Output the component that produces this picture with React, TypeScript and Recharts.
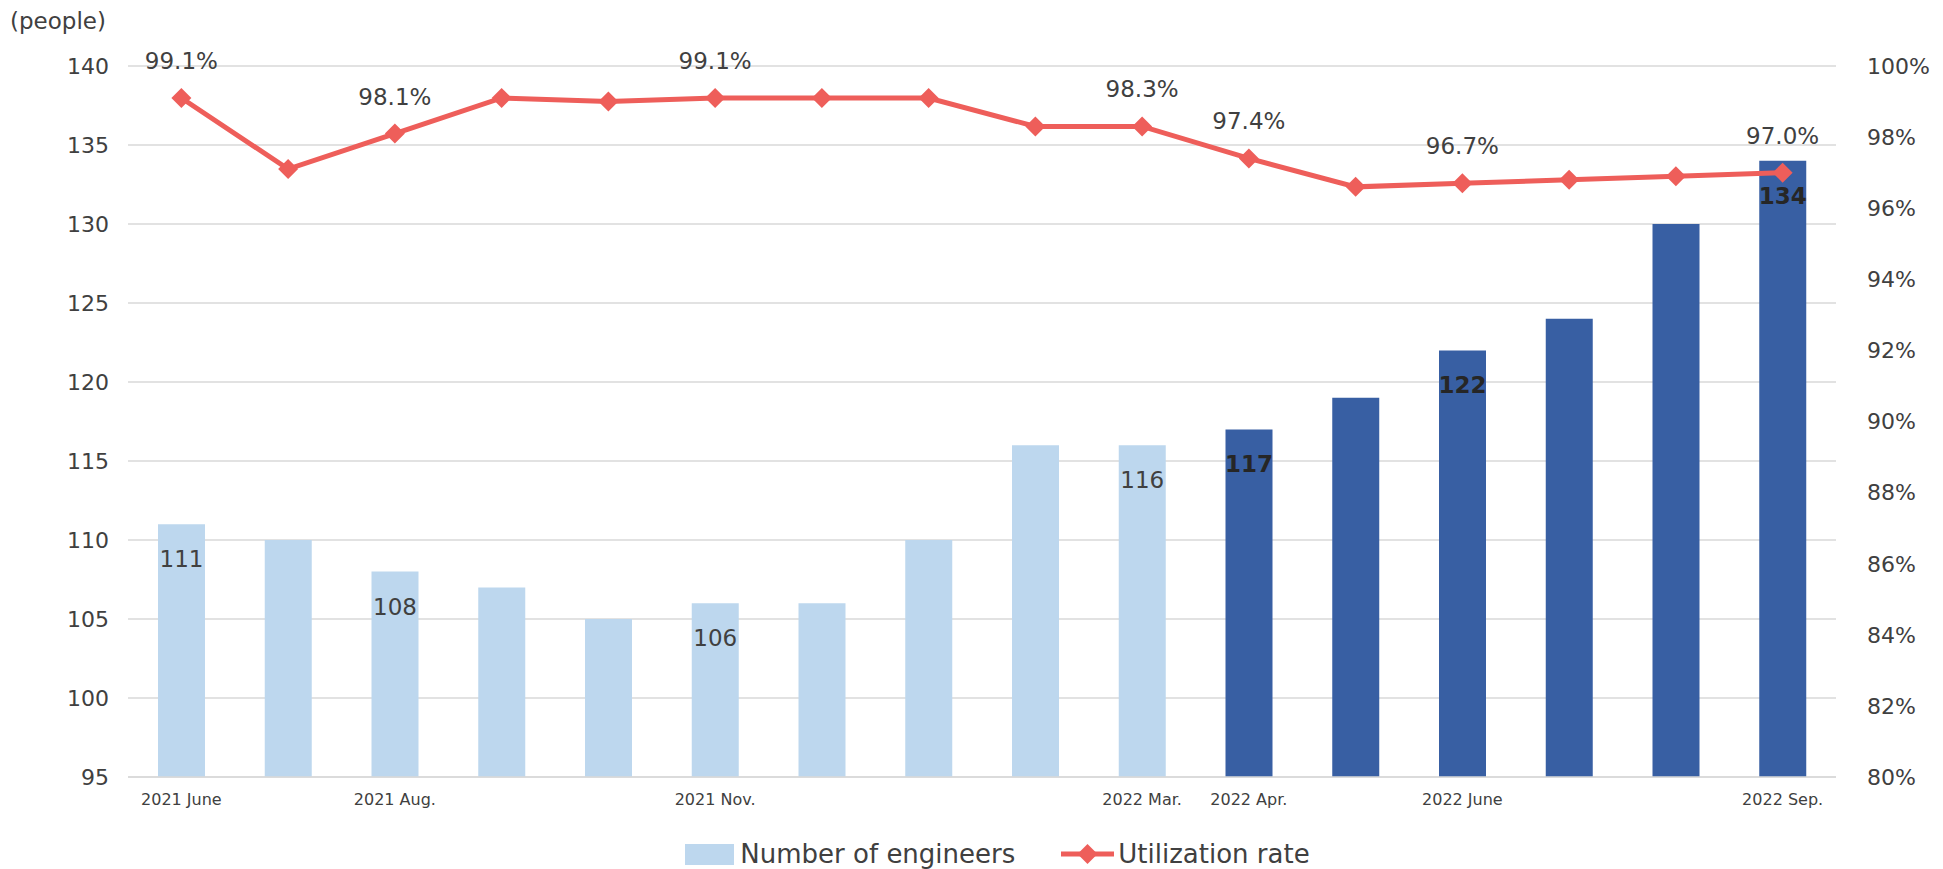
import React from 'react';
import {
  ComposedChart,
  Bar,
  Line,
  XAxis,
  YAxis,
  CartesianGrid,
  Legend,
  Cell,
} from 'recharts';

const months = [
  '2021 June', '2021 July', '2021 Aug.', '2021 Sep.', '2021 Oct.', '2021 Nov.', '2021 Dec.', '2022 Jan.',
  '2022 Feb.', '2022 Mar.', '2022 Apr.', '2022 May', '2022 June', '2022 July', '2022 Aug.', '2022 Sep.',
];
// only some months get an axis label (and a value label)
const tickLabels = [
  '2021 June', '', '2021 Aug.', '', '', '2021 Nov.', '', '',
  '', '2022 Mar.', '2022 Apr.', '', '2022 June', '', '', '2022 Sep.',
];
const engineers = [111, 110, 108, 107, 105, 106, 106, 110, 116, 116, 117, 119, 122, 124, 130, 134];
const utilization = [99.1, 97.1, 98.1, 99.1, 99.0, 99.1, 99.1, 99.1, 98.3, 98.3, 97.4, 96.6, 96.7, 96.8, 96.9, 97.0];
// from 2022 Apr. the bars are dark
const darkBar = [false, false, false, false, false, false, false, false, false, false, true, true, true, true, true, true];
const leftTicks = [95, 100, 105, 110, 115, 120, 125, 130, 135, 140];
const rightTicks = [80, 82, 84, 86, 88, 90, 92, 94, 96, 98, 100];

const data = months.map((m, i) => ({ month: m, engineers: engineers[i], rate: utilization[i] }));

const LIGHT = '#BDD7EE';
const DARK = '#385FA3';
const RED = '#EE5E5A';
const TEXT = '#404040';
const FONT = '"DejaVu Sans", Verdana, sans-serif';

const Diamond = ({ cx, cy, r = 10 }: { cx: number; cy: number; r?: number }) => (
  <polygon points={`${cx},${cy - r} ${cx + r},${cy} ${cx},${cy + r} ${cx - r},${cy}`} fill={RED} />
);

const renderBarLabel = (props: any) => {
  const { x, y, width, index, value } = props;
  if (!tickLabels[index]) return null;
  const dark = darkBar[index];
  return (
    <text
      key={`bl-${index}`}
      x={x + width / 2}
      y={y + 35}
      textAnchor="middle"
      dominantBaseline="central"
      fontFamily={FONT}
      fontSize={23}
      fontWeight={dark ? 'bold' : 'normal'}
      fill={dark ? '#262626' : TEXT}
    >
      {value}
    </text>
  );
};

const renderLineLabel = (props: any) => {
  const { x, y, index, value } = props;
  if (!tickLabels[index]) return null;
  return (
    <text
      key={`ll-${index}`}
      x={x}
      y={y - 37}
      textAnchor="middle"
      dominantBaseline="central"
      fontFamily={FONT}
      fontSize={23}
      fill={TEXT}
    >
      {Number(value).toFixed(1)}%
    </text>
  );
};

const LegendContent = () => (
  <div
    style={{
      display: 'flex',
      justifyContent: 'center',
      alignItems: 'center',
      height: 52,
      paddingLeft: 52,
      fontFamily: FONT,
      fontSize: 26,
      color: TEXT,
      boxSizing: 'border-box',
      paddingTop: 22,
    }}
  >
    <span style={{ display: 'inline-block', width: 49, height: 21, background: LIGHT, marginRight: 6 }} />
    <span style={{ marginRight: 46 }}>Number of engineers</span>
    <svg width={53} height={22} style={{ marginRight: 4 }}>
      <line x1={0} y1={11} x2={53} y2={11} stroke={RED} strokeWidth={5} />
      <Diamond cx={26.5} cy={11} />
    </svg>
    <span>Utilization rate</span>
  </div>
);

const App: React.FC = () => {
  return (
    <div style={{ position: 'relative', width: 1943, height: 869, background: '#fff' }}>
      <style>{'body{margin:0}'}</style>
      <div
        style={{
          position: 'absolute',
          left: 10,
          top: 8,
          fontFamily: FONT,
          fontSize: 23,
          color: TEXT,
        }}
      >
        (people)
      </div>
      <ComposedChart
        width={1943}
        height={869}
        data={data}
        margin={{ top: 66, right: 0, bottom: 0, left: 0 }}
        barCategoryGap={0}
      >
        <CartesianGrid vertical={false} stroke="#D9D9D9" strokeWidth={1.5} yAxisId="left" />
        <XAxis
          dataKey="month"
          interval={0}
          tickLine={false}
          tickSize={0}
          tickMargin={17}
          height={40}
          axisLine={{ stroke: '#D9D9D9', strokeWidth: 1.5 }}
          tickFormatter={(_v: string, i: number) => tickLabels[i]}
          tick={{ fontFamily: FONT, fontSize: 16, fill: TEXT }}
        />
        <YAxis
          yAxisId="left"
          domain={[95, 140]}
          ticks={leftTicks}
          width={128}
          axisLine={false}
          tickLine={false}
          tickSize={0}
          tickMargin={19}
          tick={{ fontFamily: FONT, fontSize: 22, fill: TEXT }}
        />
        <YAxis
          yAxisId="right"
          orientation="right"
          domain={[80, 100]}
          ticks={rightTicks}
          width={107}
          axisLine={false}
          tickLine={false}
          tickSize={0}
          tickMargin={31}
          tickFormatter={(v: number) => `${v}%`}
          tick={{ fontFamily: FONT, fontSize: 22, fill: TEXT, textAnchor: 'start' }}
        />
        <Legend verticalAlign="bottom" content={<LegendContent />} wrapperStyle={{ height: 52 }} />
        <Bar
          yAxisId="left"
          dataKey="engineers"
          name="Number of engineers"
          barSize={47}
          isAnimationActive={false}
          label={renderBarLabel}
        >
          {data.map((_d, i) => (
            <Cell key={i} fill={darkBar[i] ? DARK : LIGHT} />
          ))}
        </Bar>
        <Line
          yAxisId="right"
          dataKey="rate"
          name="Utilization rate"
          stroke={RED}
          strokeWidth={5}
          isAnimationActive={false}
          dot={(p: any) => <Diamond key={`d-${p.index}`} cx={p.cx} cy={p.cy} />}
          activeDot={false}
          label={renderLineLabel}
        />
      </ComposedChart>
    </div>
  );
};

export default App;
